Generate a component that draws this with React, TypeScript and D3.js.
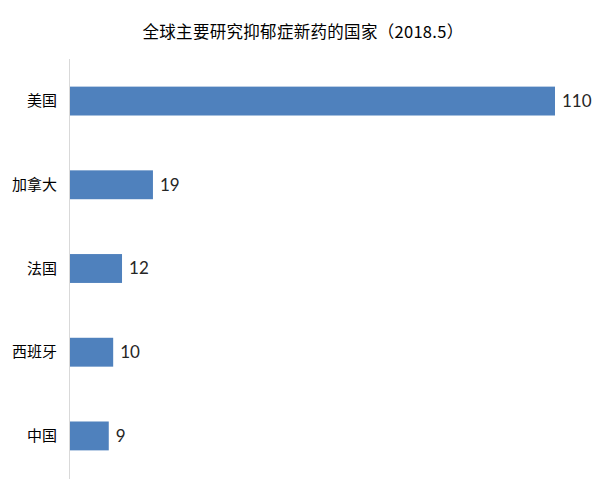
import React, { useEffect, useRef } from 'react';
import * as d3 from 'd3';

const countries = ['美国', '加拿大', '法国', '西班牙', '中国'];
const counts = [110, 19, 12, 10, 9];
const title = '全球主要研究抑郁症新药的国家（2018.5）';

const WIDTH = 606;
const HEIGHT = 486;
const MARGIN = { top: 59, right: 51, bottom: 8, left: 69 };

const App: React.FC = () => {
    const svgRef = useRef<SVGSVGElement | null>(null);

    useEffect(() => {
        const svg = d3.select(svgRef.current);
        svg.selectAll('*').remove();

        const width = WIDTH - MARGIN.left - MARGIN.right;
        const height = HEIGHT - MARGIN.top - MARGIN.bottom;

        const x = d3.scaleLinear().domain([0, 110]).range([0, width]);
        const y = d3.scaleBand()
            .domain(countries)
            .range([0, height])
            .paddingInner(0.655)
            .paddingOuter(0.33);

        svg.append('rect').attr('width', WIDTH).attr('height', HEIGHT).attr('fill', '#fff');

        svg.append('text')
            .attr('x', WIDTH / 2)
            .attr('y', 38)
            .attr('text-anchor', 'middle')
            .attr('font-family', '"Noto Sans CJK SC", sans-serif')
            .attr('font-size', 16.5)
            .attr('letter-spacing', 0.3)
            .attr('fill', '#000')
            .text(title);

        const g = svg.append('g').attr('transform', `translate(${MARGIN.left},${MARGIN.top})`);

        const data = countries.map((c, i) => ({ country: c, value: counts[i] }));

        g.selectAll('rect.bar')
            .data(data)
            .enter()
            .append('rect')
            .attr('class', 'bar')
            .attr('x', 0)
            .attr('y', d => y(d.country)!)
            .attr('width', d => x(d.value))
            .attr('height', y.bandwidth())
            .attr('fill', '#4f81bd');

        g.selectAll('text.value')
            .data(data)
            .enter()
            .append('text')
            .attr('class', 'value')
            .attr('x', d => x(d.value) + 7)
            .attr('y', d => y(d.country)! + y.bandwidth() / 2)
            .attr('dy', '0.35em')
            .attr('font-family', 'Lato, sans-serif')
            .attr('font-size', 17)
            .attr('fill', '#262626')
            .text(d => d.value);

        g.selectAll('text.cat')
            .data(data)
            .enter()
            .append('text')
            .attr('class', 'cat')
            .attr('x', -12)
            .attr('y', d => y(d.country)! + y.bandwidth() / 2)
            .attr('dy', '0.35em')
            .attr('text-anchor', 'end')
            .attr('font-family', '"Noto Sans CJK SC", sans-serif')
            .attr('font-size', 15)
            .attr('fill', '#000')
            .text(d => d.country);

        g.append('line')
            .attr('x1', 0.5)
            .attr('x2', 0.5)
            .attr('y1', 0)
            .attr('y2', height + 1)
            .attr('stroke', '#d9d9d9')
            .attr('stroke-width', 1);
    }, []);

    return (
        <svg
            ref={svgRef}
            width={WIDTH}
            height={HEIGHT}
            style={{ position: 'absolute', left: 0, top: 0 }}
        ></svg>
    );
};

export default App;
